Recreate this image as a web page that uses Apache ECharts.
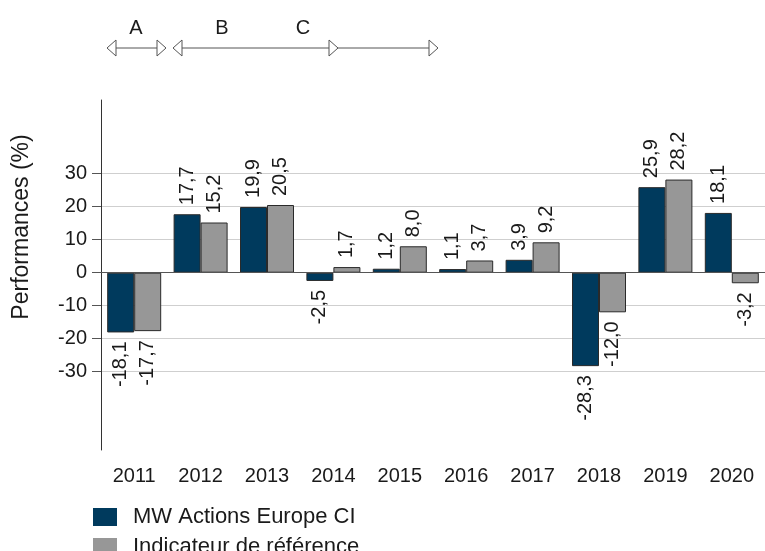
<!DOCTYPE html>
<html>
<head>
<meta charset="utf-8">
<script src="https://cdn.jsdelivr.net/npm/echarts@6/dist/echarts.min.js"></script>
<style>html,body{margin:0;padding:0;background:#fff}#c{width:765px;height:551px}</style>
</head>
<body>
<div id="c"></div>
<script>
var years = ['2011','2012','2013','2014','2015','2016','2017','2018','2019','2020'];
var fundValues = [-18.1, 17.7, 19.9, -2.5, 1.2, 1.1, 3.9, -28.3, 25.9, 18.1];
var benchValues = [-17.7, 15.2, 20.5, 1.7, 8.0, 3.7, 9.2, -12.0, 28.2, -3.2];
var yTicks = [-30, -20, -10, 0, 10, 20, 30];
var seriesNames = ['MW Actions Europe CI', 'Indicateur de référence'];
var periodLabels = ['A', 'B', 'C'];
var yAxisTitle = 'Performances (%)';

var FONT = 'Liberation Sans, Arial, sans-serif';
function fmt(v){ return v.toFixed(1).replace('.', ','); }
function mkData(arr){
  return arr.map(function(v){
    return v >= 0
      ? {value: v, label: {position: 'top', align: 'left', verticalAlign: 'middle'}}
      : {value: v, label: {position: 'bottom', align: 'right', verticalAlign: 'middle'}};
  });
}
var labelCfg = {
  show: true, rotate: 90, distance: 9, color: '#1a1a1a',
  fontFamily: FONT, fontSize: 20,
  formatter: function(p){ return fmt(p.value); }
};

// top period annotation
var LY = 48;
function head(tip, dir){
  var b = tip - dir * 9;
  return {type: 'polygon', shape: {points: [[tip, LY], [b, LY - 8], [b, LY + 8]]},
          style: {fill: '#fff', stroke: '#555', lineWidth: 1}, z: 10};
}
var graphics = [
  {type: 'line', shape: {x1: 107, y1: LY, x2: 166, y2: LY}, style: {stroke: '#555', lineWidth: 1}},
  {type: 'line', shape: {x1: 173, y1: LY, x2: 438, y2: LY}, style: {stroke: '#555', lineWidth: 1}},
  head(107, -1), head(166, 1), head(173, -1), head(338, 1), head(438, 1),
  {type: 'text', x: 136, y: 28, style: {text: periodLabels[0], font: '20px ' + FONT, fill: '#1a1a1a', align: 'center', verticalAlign: 'middle'}},
  {type: 'text', x: 222, y: 28, style: {text: periodLabels[1], font: '20px ' + FONT, fill: '#1a1a1a', align: 'center', verticalAlign: 'middle'}},
  {type: 'text', x: 303, y: 28, style: {text: periodLabels[2], font: '20px ' + FONT, fill: '#1a1a1a', align: 'center', verticalAlign: 'middle'}},
  {type: 'text', x: 22, y: 227, rotation: Math.PI / 2,
   style: {text: yAxisTitle, font: '23px ' + FONT, fill: '#1a1a1a', align: 'center', verticalAlign: 'middle'}}
];

var chart = echarts.init(document.getElementById('c'), null, {renderer: 'canvas'});
chart.setOption({
  animation: false,
  backgroundColor: '#fff',
  graphic: graphics,
  grid: {left: 101, right: -6, top: 100, bottom: 101, containLabel: false},
  legend: {
    orient: 'vertical', left: 93, top: 506, height: 120, padding: 0,
    itemWidth: 24, itemHeight: 18, itemGap: 8,
    icon: 'rect',
    textStyle: {fontFamily: FONT, fontSize: 22, color: '#1a1a1a', padding: [0, 0, 0, 11]},
    itemStyle: {borderWidth: 0},
    data: seriesNames
  },
  xAxis: {
    type: 'category', data: years,
    axisLine: {show: false, onZero: false},
    axisTick: {show: false},
    axisLabel: {margin: 16, fontFamily: FONT, fontSize: 20, color: '#1a1a1a'}
  },
  yAxis: {
    type: 'value', min: -53.7, max: 52.3,
    axisLine: {show: true, lineStyle: {color: '#333', width: 1}},
    axisTick: {show: true, inside: false, length: 9, customValues: yTicks, lineStyle: {color: '#555'}},
    axisLabel: {customValues: yTicks, margin: 14, fontFamily: FONT, fontSize: 20, color: '#1a1a1a'},
    splitLine: {show: true, lineStyle: {color: '#cfcfcf', width: 1}}
  },
  series: [
    {
      name: seriesNames[0], type: 'bar', data: mkData(fundValues),
      barWidth: 27, barGap: '0%',
      itemStyle: {color: '#003A5D', borderColor: '#2a2a2a', borderWidth: 1},
      label: labelCfg,
      markLine: {
        silent: true, symbol: 'none', z: 3, label: {show: false},
        lineStyle: {color: '#555', width: 1, type: 'solid'},
        data: [{yAxis: 0}]
      }
    },
    {
      name: seriesNames[1], type: 'bar', data: mkData(benchValues),
      barWidth: 27, barGap: '0%',
      itemStyle: {color: '#979797', borderColor: '#2a2a2a', borderWidth: 1},
      label: labelCfg
    }
  ]
});
</script>
</body>
</html>
